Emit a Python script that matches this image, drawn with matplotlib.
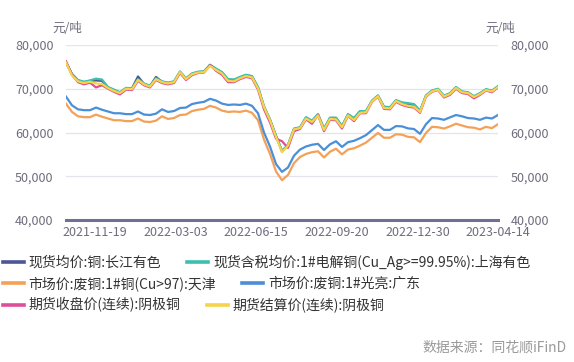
import numpy as np
import matplotlib
matplotlib.use("Agg")
import matplotlib.pyplot as plt
from matplotlib.lines import Line2D

plt.rcParams["font.family"] = ["Noto Sans CJK SC", "DejaVu Sans"]

# weekly samples, from mid-Oct 2021 to 2023-04-14 (values in 元/吨)
spot_cj = [
    76000, 73300, 71900, 71500, 71800, 71900, 71800, 70300, 69700, 69100,
    70100, 70100, 72800, 71100, 70600, 72700, 71600, 71300, 71600, 73900,
    72300, 73400, 73800, 73900, 75400, 74500, 73700, 72100, 72000, 72600,
    73100, 72800, 70300, 65900, 62900, 59200, 55700, 57100, 60800, 61100,
    63400, 62600, 64100, 60800, 63300, 63300, 61400, 64100, 63200, 64800,
    64800, 67200, 68400, 65800, 65700, 67300, 66700, 66400, 66300, 64900,
    68400, 69500, 69900, 68300, 68900, 70300, 69300, 69100, 68200, 68900,
    69800, 69500, 70500,
]
spot_smm = [
    76100, 73400, 72000, 71600, 71900, 72300, 72100, 70400, 69800, 69200,
    70200, 70100, 72200, 71200, 70700, 72400, 71700, 71400, 71700, 73900,
    72400, 73500, 73900, 74000, 75500, 74600, 73800, 72200, 72100, 72700,
    73200, 72900, 70400, 66000, 63000, 59300, 55800, 57200, 60900, 61200,
    63500, 62700, 64200, 60900, 63400, 63400, 61500, 64200, 63300, 64900,
    64900, 67300, 68500, 65900, 65800, 67400, 66900, 66700, 66500, 65000,
    68500, 69600, 70000, 68400, 69000, 70400, 69400, 69200, 68300, 69000,
    69900, 69600, 70600,
]
scrap_tj = [
    66600, 64700, 63700, 63500, 63500, 64100, 63600, 63200, 62800, 62800,
    62600, 62600, 63200, 62500, 62400, 62700, 63700, 63100, 63300, 64000,
    64100, 64900, 65200, 65400, 66100, 65700, 65000, 64700, 64800, 64700,
    65000, 64500, 62800, 58400, 55100, 51100, 49100, 50300, 53000, 54400,
    55100, 55500, 55700, 54300, 55600, 56300, 55000, 56100, 56400, 57000,
    57700, 58800, 59900, 58800, 58800, 59600, 59500, 59000, 58900, 57800,
    59900, 61300, 61200, 60900, 61400, 62000, 61600, 61200, 61100, 60700,
    61300, 61000, 61900,
]
scrap_gd = [
    68200, 66200, 65300, 65100, 65100, 65700, 65200, 64800, 64400, 64400,
    64200, 64200, 64800, 64100, 64000, 64300, 65300, 64700, 64900, 65600,
    65700, 66500, 66800, 67000, 67700, 67300, 66600, 66300, 66400, 66300,
    66600, 66100, 64400, 60000, 56800, 52800, 51000, 52000, 54700, 56100,
    56800, 57200, 57400, 56000, 57300, 58000, 56700, 57800, 58100, 58700,
    59400, 60550, 61700, 60600, 60600, 61470, 61400, 60940, 60800, 59700,
    61900, 63300, 63200, 62900, 63460, 64000, 63700, 63300, 63200, 62900,
    63400, 63200, 64000,
]
fut_close = [
    76300, 73200, 71500, 71000, 71400, 70300, 70800, 70000, 69300, 68700,
    69800, 69700, 71800, 70800, 70300, 72000, 71300, 71000, 71300, 73600,
    72000, 73100, 73600, 73700, 75400, 74100, 73200, 71500, 71500, 72200,
    72700, 72400, 69800, 65300, 62300, 58600, 58000, 56500, 60300, 60800,
    63000, 62000, 64000, 60300, 62900, 62800, 60900, 63800, 62600, 64400,
    64400, 67000, 68200, 65400, 65300, 67000, 66300, 65900, 65700, 64500,
    68200, 69300, 69700, 68000, 68600, 70000, 69000, 68800, 67800, 68600,
    69600, 69200, 70300,
]
fut_settle = [
    76000, 73000, 71700, 71300, 71600, 71200, 71100, 70150, 69500, 69000,
    70000, 69900, 72000, 71000, 70500, 72200, 71500, 71200, 71500, 73800,
    72200, 73300, 73700, 73800, 75200, 74300, 73500, 71800, 71700, 72400,
    72900, 72600, 70100, 65800, 62800, 59000, 55500, 57000, 60700, 61000,
    63200, 62400, 63900, 60600, 63100, 63000, 61200, 63900, 62840, 64500,
    64600, 67100, 68300, 65600, 65500, 67200, 66500, 66100, 65900, 64700,
    68300, 69400, 69800, 68200, 68800, 70200, 69200, 69000, 68100, 68800,
    69700, 69400, 70400,
]

tick_pos = [4.83, 18.27, 31.7, 45.13, 58.57, 72]
tick_labels = ["2021-11-19", "2022-03-03", "2022-06-15",
               "2022-09-20", "2022-12-30", "2023-04-14"]

series = [
    ("现货均价:铜:长江有色", spot_cj, "#4d5699"),
    ("现货含税均价:1#电解铜(Cu_Ag>=99.95%):上海有色", spot_smm, "#3ebfae"),
    ("市场价:废铜:1#铜(Cu>97):天津", scrap_tj, "#f4a157"),
    ("市场价:废铜:1#光亮:广东", scrap_gd, "#4a8fd8"),
    ("期货收盘价(连续):阴极铜", fut_close, "#de4f97"),
    ("期货结算价(连续):阴极铜", fut_settle, "#f5d34a"),
]

fig = plt.figure(figsize=(5.74, 3.62), dpi=100)
ax = fig.add_axes([66 / 574, 1 - 220 / 362, 432 / 574, 175 / 362])

x = np.arange(len(fut_settle))
handles = []
for name, vals, color in series:
    ax.plot(x, vals, color=color, linewidth=1.6, solid_joinstyle="round")
    handles.append(Line2D([], [], color=color, linewidth=2.6, label=name))

tick_color = "#6d6d7d"
ax.set_xlim(0, 72)
ax.set_ylim(40000, 80000)
ax.set_yticks([40000, 50000, 60000, 70000, 80000])
ax.set_yticklabels(["40,000", "50,000", "60,000", "70,000", "80,000"])
ax.set_xticks(tick_pos)
ax.set_xticklabels(tick_labels)
ax.tick_params(axis="y", length=0, pad=9, labelsize=9, colors=tick_color,
               labelright=True)
ax.tick_params(axis="x", length=0, pad=4, labelsize=9, colors=tick_color)
ax.grid(axis="y", color="#e4e4ee", linewidth=0.9)
ax.set_axisbelow(True)
for s in ["top", "right", "left"]:
    ax.spines[s].set_visible(False)
ax.spines["bottom"].set_color("#6f7096")
ax.spines["bottom"].set_linewidth(2.2)

fig.text(52 / 574, 1 - 28 / 362, "元/吨", fontsize=9, color=tick_color, va="center")
fig.text(485 / 574, 1 - 28 / 362, "元/吨", fontsize=9, color=tick_color, va="center")

# legend rows, two entries each
row_y = [262, 283.5, 305]
for i, yy in enumerate(row_y):
    leg = fig.legend(handles=handles[2 * i:2 * i + 2], ncol=2,
                     loc="center left", bbox_to_anchor=(0, 1 - yy / 362),
                     frameon=False, fontsize=10, handlelength=1.5,
                     handletextpad=0.35, columnspacing=1.9,
                     borderaxespad=0, borderpad=0.2)
    for t in leg.get_texts():
        t.set_color("#333333")

fig.text(567 / 574, 1 - 348 / 362, "数据来源：同花顺iFinD", fontsize=10,
         color="#9a9a9a", ha="right", va="center")

fig.savefig("out.png", dpi=100, facecolor="white")
